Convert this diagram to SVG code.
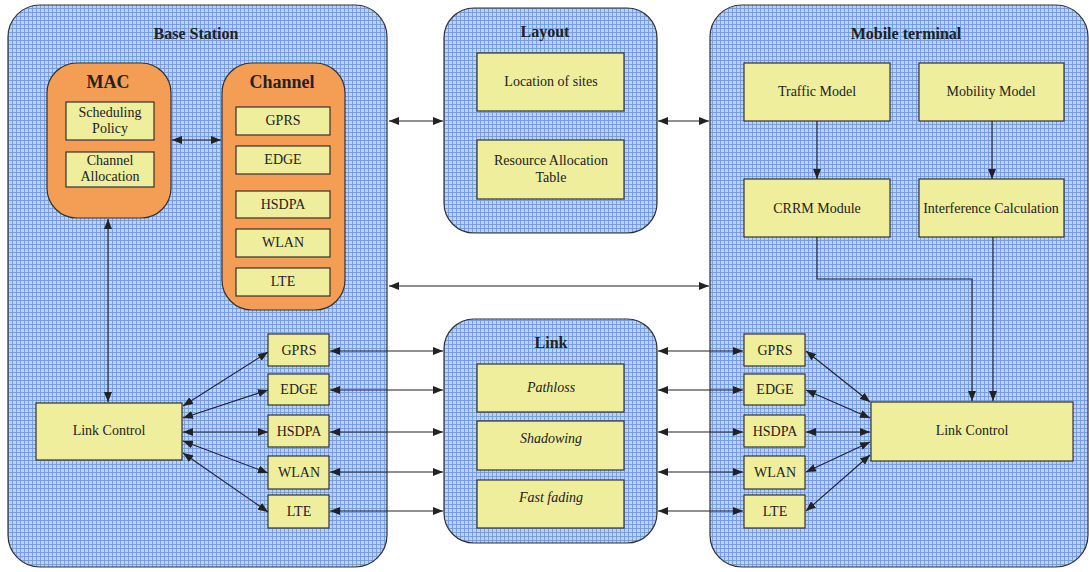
<svg xmlns="http://www.w3.org/2000/svg" width="1089" height="572" viewBox="0 0 1089 572">
<defs>
<pattern id="grid" width="4" height="4" patternUnits="userSpaceOnUse">
<rect width="4" height="4" fill="#bcd3ef"/>
<path d="M0 0.5H4M0.5 0V4" stroke="#6f9bd8" stroke-width="0.9" fill="none"/>
</pattern>
<marker id="ah" viewBox="0 0 10 8" refX="10" refY="4" markerWidth="10" markerHeight="8" markerUnits="userSpaceOnUse" orient="auto-start-reverse">
<path d="M0 0L10 4L0 8z" fill="#222"/>
</marker>
</defs>
<style>
.cont{fill:url(#grid);stroke:#333;stroke-width:1.2}
.org{fill:#f49d55;stroke:#333;stroke-width:1.2}
.box{fill:#eeee9c;stroke:#333;stroke-width:1.2}
.t{font-family:"Liberation Serif","DejaVu Serif",serif;font-size:14px;fill:#222;text-anchor:middle}
.i{font-style:italic}
.h{font-family:"Liberation Serif","DejaVu Serif",serif;font-size:16px;font-weight:bold;fill:#222;text-anchor:middle}
.h2{font-family:"Liberation Serif","DejaVu Serif",serif;font-size:18px;font-weight:bold;fill:#222;text-anchor:middle}
.c{stroke:#222;stroke-width:1.1;fill:none}
.b{marker-start:url(#ah);marker-end:url(#ah)}
.e{marker-end:url(#ah)}
</style>

<g id="base-station">
<rect class="cont" x="8" y="5" width="379" height="562" rx="32"/>
<text class="h" x="196" y="39">Base Station</text>
</g>
<g id="mac">
<rect class="org" x="47" y="63" width="124" height="155" rx="30"/>
<text class="h2" x="108" y="88">MAC</text>
</g>
<g id="scheduling-policy">
<rect class="box" x="66" y="102" width="88" height="38"/>
<text class="t" x="110" y="117">Scheduling</text>
<text class="t" x="110" y="133">Policy</text>
</g>
<g id="channel-allocation">
<rect class="box" x="66" y="152" width="88" height="35"/>
<text class="t" x="110" y="165">Channel</text>
<text class="t" x="110" y="181">Allocation</text>
</g>
<g id="channel">
<rect class="org" x="222" y="63" width="123" height="247" rx="30"/>
<text class="h2" x="282" y="88">Channel</text>
</g>
<g id="ch-gprs"><rect class="box" x="236" y="107" width="94" height="28"/><text class="t" x="283" y="125">GPRS</text></g>
<g id="ch-edge"><rect class="box" x="236" y="146" width="94" height="28"/><text class="t" x="283" y="164">EDGE</text></g>
<g id="ch-hsdpa"><rect class="box" x="236" y="191" width="94" height="27"/><text class="t" x="283" y="209">HSDPA</text></g>
<g id="ch-wlan"><rect class="box" x="236" y="229" width="94" height="28"/><text class="t" x="283" y="247">WLAN</text></g>
<g id="ch-lte"><rect class="box" x="236" y="268" width="94" height="28"/><text class="t" x="283" y="286">LTE</text></g>

<g id="bs-link-control"><rect class="box" x="36" y="403" width="146" height="57"/><text class="t" x="109" y="435">Link Control</text></g>
<g id="bs-gprs"><rect class="box" x="268" y="334" width="61" height="32"/><text class="t" x="299" y="355">GPRS</text></g>
<g id="bs-edge"><rect class="box" x="268" y="374" width="61" height="31"/><text class="t" x="299" y="394">EDGE</text></g>
<g id="bs-hsdpa"><rect class="box" x="268" y="415" width="61" height="32"/><text class="t" x="299" y="436">HSDPA</text></g>
<g id="bs-wlan"><rect class="box" x="268" y="456" width="61" height="33"/><text class="t" x="299" y="477">WLAN</text></g>
<g id="bs-lte"><rect class="box" x="268" y="495" width="61" height="33"/><text class="t" x="299" y="516">LTE</text></g>

<g id="layout">
<rect class="cont" x="444" y="8" width="213" height="225" rx="30"/>
<text class="h" x="545" y="37">Layout</text>
</g>
<g id="location-of-sites"><rect class="box" x="477" y="53" width="147" height="58"/><text class="t" x="551" y="86">Location of sites</text></g>
<g id="resource-allocation-table"><rect class="box" x="477" y="140" width="147" height="59"/><text class="t" x="551" y="165">Resource Allocation</text><text class="t" x="551" y="182">Table</text></g>

<g id="link">
<rect class="cont" x="444" y="319" width="213" height="224" rx="30"/>
<text class="h" x="551" y="348">Link</text>
</g>
<g id="pathloss"><rect class="box" x="477" y="364" width="147" height="48"/><text class="t i" x="551" y="392">Pathloss</text></g>
<g id="shadowing"><rect class="box" x="477" y="421" width="147" height="49"/><text class="t i" x="551" y="443">Shadowing</text></g>
<g id="fast-fading"><rect class="box" x="477" y="480" width="147" height="48"/><text class="t i" x="551" y="502">Fast fading</text></g>

<g id="mobile-terminal">
<rect class="cont" x="710" y="5" width="378" height="562" rx="32"/>
<text class="h" x="906" y="39">Mobile terminal</text>
</g>
<g id="traffic-model"><rect class="box" x="744" y="63" width="146" height="58"/><text class="t" x="817" y="96">Traffic Model</text></g>
<g id="mobility-model"><rect class="box" x="919" y="63" width="145" height="58"/><text class="t" x="991" y="96">Mobility Model</text></g>
<g id="crrm-module"><rect class="box" x="744" y="179" width="146" height="58"/><text class="t" x="817" y="213">CRRM Module</text></g>
<g id="interference-calculation"><rect class="box" x="919" y="179" width="145" height="58"/><text class="t" x="991" y="213">Interference Calculation</text></g>
<g id="mt-link-control"><rect class="box" x="871" y="402" width="202" height="59"/><text class="t" x="972" y="435">Link Control</text></g>
<g id="mt-gprs"><rect class="box" x="744" y="334" width="61" height="32"/><text class="t" x="775" y="355">GPRS</text></g>
<g id="mt-edge"><rect class="box" x="744" y="374" width="61" height="31"/><text class="t" x="775" y="394">EDGE</text></g>
<g id="mt-hsdpa"><rect class="box" x="744" y="415" width="61" height="32"/><text class="t" x="775" y="436">HSDPA</text></g>
<g id="mt-wlan"><rect class="box" x="744" y="456" width="61" height="33"/><text class="t" x="775" y="477">WLAN</text></g>
<g id="mt-lte"><rect class="box" x="744" y="495" width="61" height="33"/><text class="t" x="775" y="516">LTE</text></g>

<g id="connectors">
<line class="c b" x1="172" y1="140" x2="221" y2="140"/>
<line class="c b" x1="108" y1="219" x2="108" y2="402"/>
<line class="c b" x1="389" y1="121" x2="443" y2="121"/>
<line class="c b" x1="658" y1="121" x2="709" y2="121"/>
<line class="c b" x1="389" y1="286" x2="709" y2="286"/>

<line class="c b" x1="183" y1="406" x2="268" y2="352"/>
<line class="c b" x1="183" y1="418" x2="268" y2="390"/>
<line class="c b" x1="183" y1="432" x2="268" y2="432"/>
<line class="c b" x1="183" y1="441" x2="268" y2="473"/>
<line class="c b" x1="183" y1="453" x2="268" y2="512"/>

<line class="c b" x1="330" y1="351" x2="443" y2="351"/>
<line class="c b" x1="330" y1="390" x2="443" y2="390"/>
<line class="c b" x1="330" y1="432" x2="443" y2="432"/>
<line class="c b" x1="330" y1="472" x2="443" y2="472"/>
<line class="c b" x1="330" y1="511" x2="443" y2="511"/>

<line class="c b" x1="658" y1="351" x2="743" y2="351"/>
<line class="c b" x1="658" y1="390" x2="743" y2="390"/>
<line class="c b" x1="658" y1="432" x2="743" y2="432"/>
<line class="c b" x1="658" y1="472" x2="743" y2="472"/>
<line class="c b" x1="658" y1="511" x2="743" y2="511"/>

<line class="c b" x1="806" y1="351" x2="870" y2="402"/>
<line class="c b" x1="806" y1="390" x2="870" y2="418"/>
<line class="c b" x1="806" y1="432" x2="870" y2="432"/>
<line class="c b" x1="806" y1="472" x2="870" y2="442"/>
<line class="c b" x1="806" y1="511" x2="870" y2="455"/>

<line class="c e" x1="817" y1="121" x2="817" y2="179"/>
<line class="c e" x1="992" y1="121" x2="992" y2="179"/>
<polyline class="c e" points="817,237 817,279 972,279 972,401"/>
<line class="c e" x1="993" y1="237" x2="993" y2="401"/>
</g>
</svg>
